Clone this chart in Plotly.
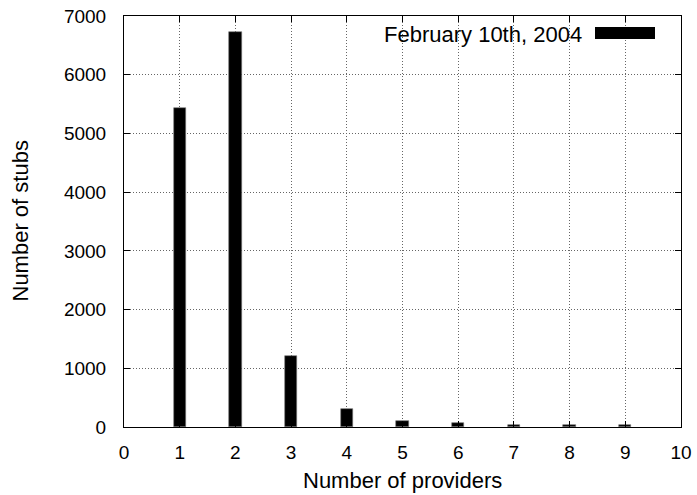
import plotly.graph_objects as go

providers = [1, 2, 3, 4, 5, 6, 7, 8, 9]
stubs = [5430, 6725, 1210, 300, 110, 60, 40, 35, 30]
series_name = "February 10th, 2004"
x_ticks = [0, 1, 2, 3, 4, 5, 6, 7, 8, 9, 10]
y_ticks = [0, 1000, 2000, 3000, 4000, 5000, 6000, 7000]

FONT = "Liberation Sans, Arial, sans-serif"
W, H = 697, 495
L, R, T, B = 124, 16, 16, 68
PW, PH = W - L - R, H - T - B


def px_x(x):
    return (x - L) / PW


def px_y(y):
    return (H - B - y) / PH


fig = go.Figure()
fig.add_trace(go.Bar(
    x=providers, y=stubs, name=series_name, width=0.22,
    marker=dict(color="black", line=dict(width=0.6, color="#777777")),
    showlegend=False,
))

axis_common = dict(
    showline=True, linecolor="black", linewidth=1, mirror="ticks",
    ticks="inside", ticklen=6, tickcolor="black", tickwidth=1,
    showgrid=True, gridcolor="#666666", griddash="1px,2px", gridwidth=1,
    zeroline=False, automargin=False,
    tickfont=dict(family=FONT, size=19, color="black"),
)

fig.update_xaxes(
    range=[0, 10], tickvals=x_ticks, ticktext=[str(v) for v in x_ticks],
    ticklabelstandoff=8,
    **axis_common,
)
fig.update_yaxes(
    range=[0, 7000], tickvals=y_ticks, ticktext=[str(v) for v in y_ticks],
    ticklabelstandoff=13,
    **axis_common,
)

# axis titles
fig.add_annotation(
    xref="paper", yref="paper", x=0.5, y=px_y(480), xanchor="center", yanchor="middle",
    text="Number of providers", showarrow=False,
    font=dict(family=FONT, size=22, color="black"),
)
fig.add_annotation(
    xref="paper", yref="paper", x=px_x(20), y=0.5, xanchor="center", yanchor="middle",
    text="Number of stubs", showarrow=False, textangle=-90,
    font=dict(family=FONT, size=22, color="black"),
)

# gnuplot-style key: text followed by sample box
fig.add_annotation(
    xref="paper", yref="paper", x=px_x(584), y=px_y(34.5), xanchor="right", yanchor="middle",
    text=series_name, showarrow=False, font=dict(family=FONT, size=22, color="black"),
)
fig.add_shape(type="rect", xref="paper", yref="paper",
              x0=px_x(595), x1=px_x(655), y0=px_y(39), y1=px_y(27),
              fillcolor="black", line=dict(width=0))

fig.update_layout(
    width=W, height=H,
    margin=dict(l=L, r=R, t=T, b=B),
    plot_bgcolor="white", paper_bgcolor="white",
    bargap=0,
)
fig.write_html("out.html", config={"displayModeBar": False},
               post_script="document.body.style.margin='0';document.body.style.overflow='hidden';")
